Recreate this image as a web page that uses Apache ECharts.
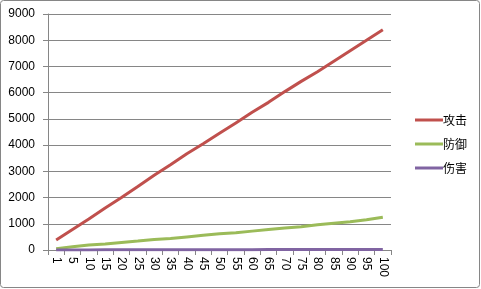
<!DOCTYPE html>
<html><head><meta charset="utf-8">
<script src="https://cdn.jsdelivr.net/npm/echarts@6/dist/echarts.min.js"></script>
<style>html,body{margin:0;padding:0;background:#fff}#c{width:481px;height:289px}</style>
</head><body><div id="c"></div>
<script>
const categories = ['1','5','10','15','20','25','30','35','40','45','50','55','60','65','70','75','80','85','90','95','100'];
const attack = [380,780,1180,1600,2000,2420,2850,3250,3670,4050,4450,4840,5250,5630,6040,6430,6800,7200,7600,8000,8400];
const defense = [50,120,190,230,290,340,400,440,500,560,620,660,720,780,840,890,960,1020,1080,1150,1250];
const damage = [2,3,4,5,6,7,8,9,10,11,12,13,14,15,16,17,18,19,20,21,22];
const seriesNames = ['攻击','防御','伤害'];
const colors = ['#C0504D','#9BBB59','#8064A2'];

const chart = echarts.init(document.getElementById('c'), null, {renderer:'canvas'});
const font = '"Liberation Sans", Arial, sans-serif';
const axisGray = '#868686';
chart.setOption({
  animation:false,
  color: colors,
  graphic:[{type:'rect', shape:{x:0.5,y:0.5,width:479,height:287,r:3}, style:{fill:'none', stroke:axisGray, lineWidth:1}, z:-1}],
  grid:{left:48,right:90,top:14,bottom:39,containLabel:false},
  legend:{
    orient:'vertical', left:410, top:108, itemWidth:28, itemHeight:3, itemGap:10,
    icon:'rect',
    textStyle:{fontFamily:'"Noto Sans CJK SC", sans-serif', fontSize:12, color:'#000', lineHeight:14, padding:[0,0,0,-5]},
    data: seriesNames
  },
  xAxis:{
    type:'category', data:categories, boundaryGap:true,
    axisLine:{show:true, lineStyle:{color:axisGray, width:1}},
    axisTick:{show:true, length:5, lineStyle:{color:axisGray}, interval:0},
    axisLabel:{rotate:-90, interval:0, margin:7, color:'#000', fontFamily:font, fontSize:12}
  },
  yAxis:{
    type:'value', min:0, max:9000, interval:1000,
    axisLine:{show:true, lineStyle:{color:axisGray, width:1}},
    axisTick:{show:true, length:5, lineStyle:{color:axisGray}},
    axisLabel:{margin:13, color:'#000', fontFamily:font, fontSize:12, formatter:function(v){return String(v);}},
    splitLine:{show:true, lineStyle:{color:axisGray, width:1}}
  },
  series:[
    {name:seriesNames[0], type:'line', data:attack, symbol:'none', lineStyle:{width:3}},
    {name:seriesNames[1], type:'line', data:defense, symbol:'none', lineStyle:{width:3}},
    {name:seriesNames[2], type:'line', data:damage, symbol:'none', lineStyle:{width:3}}
  ]
});
</script></body></html>
